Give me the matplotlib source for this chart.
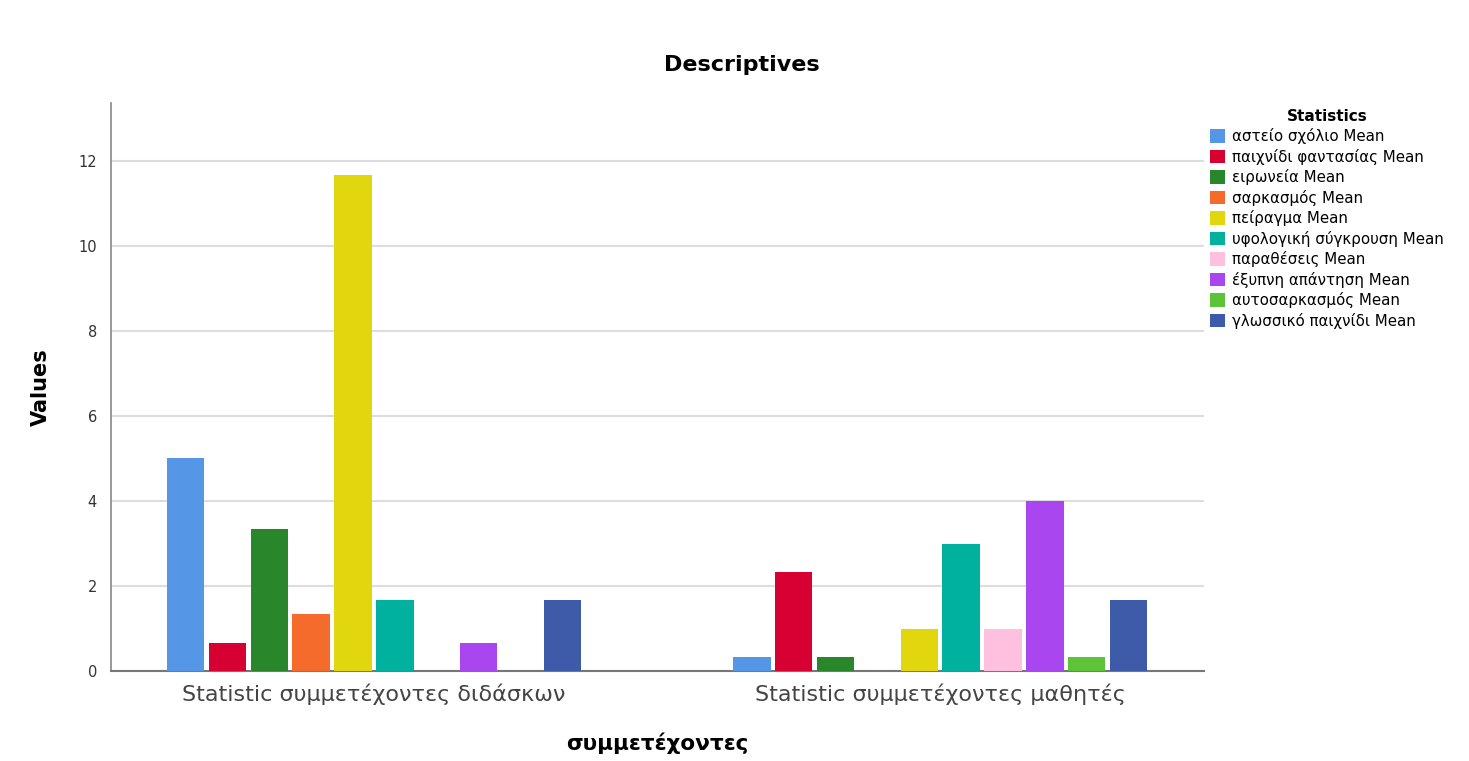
import numpy as np
import matplotlib.pyplot as plt

plt.rcParams['font.family'] = ['DejaVu Sans']

groups = ["Statistic συμμετέχοντες διδάσκων", "Statistic συμμετέχοντες μαθητές"]
series = [
    "αστείο σχόλιο Mean",
    "παιχνίδι φαντασίας Mean",
    "ειρωνεία Mean",
    "σαρκασμός Mean",
    "πείραγμα Mean",
    "υφολογική σύγκρουση Mean",
    "παραθέσεις Mean",
    "έξυπνη απάντηση Mean",
    "αυτοσαρκασμός Mean",
    "γλωσσικό παιχνίδι Mean",
]
teachers = [5.0, 0.667, 3.333, 1.333, 11.667, 1.667, 0.0, 0.667, 0.0, 1.667]
students = [0.333, 2.333, 0.333, 0.0, 1.0, 3.0, 1.0, 4.0, 0.333, 1.667]
colors = ["#5596E6", "#D70033", "#29862B", "#F46B2B", "#E2D60E",
          "#00B1A0", "#FFC0E0", "#A946F0", "#5DC339", "#3D5BA9"]

values = np.array([teachers, students])

fig = plt.figure(figsize=(14.69, 7.61), dpi=100)
ax = fig.add_axes([0.0755, 0.118, 0.744, 0.747])

x = np.arange(len(groups))
step = 0.0739
width = 0.066
n = len(series)
for i, name in enumerate(series):
    offs = (i - (n - 1) / 2) * step
    ax.bar(x + offs, values[:, i], width=width, color=colors[i], label=name, zorder=3)

ax.set_xlim(-0.4645, 1.4655)
ax.set_ylim(0, 13.36)
ax.set_yticks(range(0, 13, 2))
ax.set_xticks(x)
ax.set_xticklabels(groups, fontsize=16, color="#444444")
ax.tick_params(axis="x", length=0, pad=9)
ax.tick_params(axis="y", length=0, pad=10, labelsize=10.5, colors="#333333")
ax.grid(axis="y", color="#dddddd", linewidth=1.5, zorder=0)

for side in ("top", "right"):
    ax.spines[side].set_visible(False)
ax.spines["left"].set_color("#888888")
ax.spines["bottom"].set_color("#777777")
ax.spines["left"].set_linewidth(1.2)
ax.spines["bottom"].set_linewidth(1.5)

ax.set_ylabel("Values", fontsize=15, fontweight="bold", labelpad=20)
ax.set_xlabel("συμμετέχοντες", fontsize=15.5, fontweight="bold", labelpad=20)
fig.text(0.505, 0.915, "Descriptives", ha="center", va="center",
         fontsize=16, fontweight="bold")

leg = ax.legend(loc="upper left", bbox_to_anchor=(0.8195, 0.865),
                bbox_transform=fig.transFigure, frameon=False,
                title="Statistics", fontsize=10.8, handlelength=1.0,
                handleheight=1.0, handletextpad=0.5, labelspacing=0.3,
                borderaxespad=0)
leg.get_title().set_fontweight("bold")
leg.get_title().set_fontsize(11)

fig.savefig("out.png", dpi=100)
